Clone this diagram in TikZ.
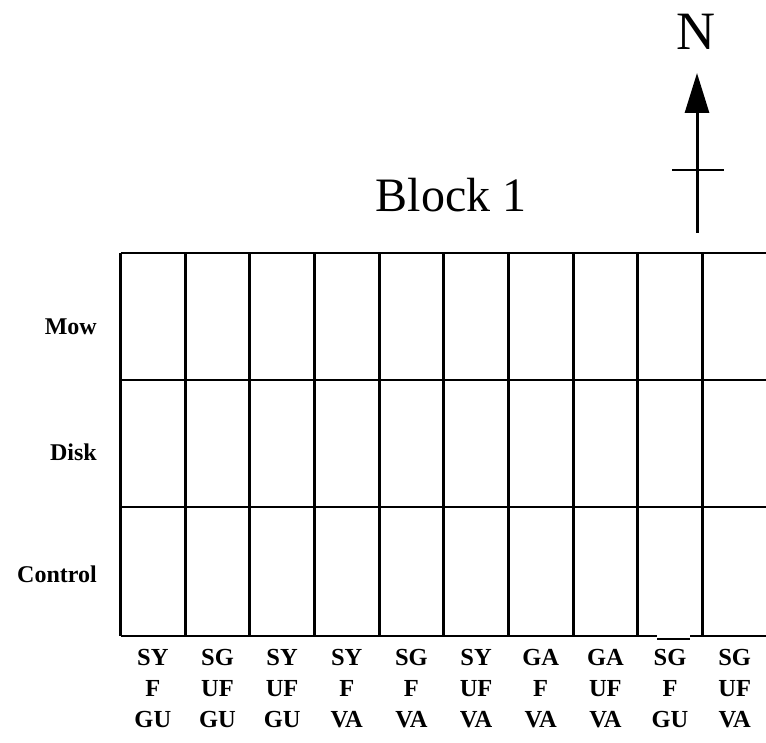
\documentclass[tikz,border=0pt]{standalone}
\usepackage{fontspec}
\setmainfont{Liberation Serif}
\usetikzlibrary{arrows.meta}
\begin{document}
\begin{tikzpicture}[x=1pt,y=-1pt,
  gridline/.style={line width=2.9pt},
  rowlabel/.style={anchor=base east,inner sep=0pt,font=\bfseries\fontsize{24}{28}\selectfont},
  collabel/.style={anchor=base,inner sep=0pt,font=\bfseries\fontsize{24.5}{28}\selectfont}]
\useasboundingbox[fill=white] (0,0) rectangle (766,743);

% plot grid: 10 columns x 3 treatment rows (east edge runs off the sheet)
\def\xl{120.5}\def\dx{64.65}
\foreach \y in {253,380,507}
  \draw[gridline] (\xl,\y) -- (770,\y);
\draw[gridline] (\xl,636) -- (657,636);
\draw[gridline] (690,636) -- (770,636);
\draw[gridline] (657,639) -- (690,639);
\foreach \i in {0,...,9}
  \draw[gridline] ({\xl+\i*\dx},253) -- ({\xl+\i*\dx},636);

% treatment rows
\node[rowlabel] (mow) at (97,335) {Mow};
\node[rowlabel] (disk) at (97,460) {Disk};
\node[rowlabel] (control) at (97,582) {Control};

% plot codes below each column
\foreach \a/\b/\c [count=\i from 0] in
  {SY/F/GU, SG/UF/GU, SY/UF/GU, SY/F/VA, SG/F/VA,
   SY/UF/VA, GA/F/VA, GA/UF/VA, SG/F/GU, SG/UF/VA}{
  \node[collabel] (ca\i) at ({\xl+(\i+0.5)*\dx},665) {\a};
  \node[collabel] (cb\i) at ({\xl+(\i+0.5)*\dx},696) {\b};
  \node[collabel] (cc\i) at ({\xl+(\i+0.5)*\dx},727) {\c};
}

% title
\node[anchor=base,inner sep=0pt,font=\fontsize{48}{52}\selectfont] (title) at (451,212) {Block 1};

% north arrow
\node[anchor=base,inner sep=0pt,font=\fontsize{54}{58}\selectfont] (north) at (696,50) {N};
\coordinate (arrtail) at (697,233);
\coordinate (arrtip) at (697,73);
\draw[line width=3pt,-{Triangle[length=40pt,width=24pt]}] (arrtail) -- (arrtip);
\coordinate (barw) at (672,170);
\coordinate (bare) at (724,170);
\draw[line width=2.8pt] (barw) -- (bare);
\end{tikzpicture}
\end{document}
